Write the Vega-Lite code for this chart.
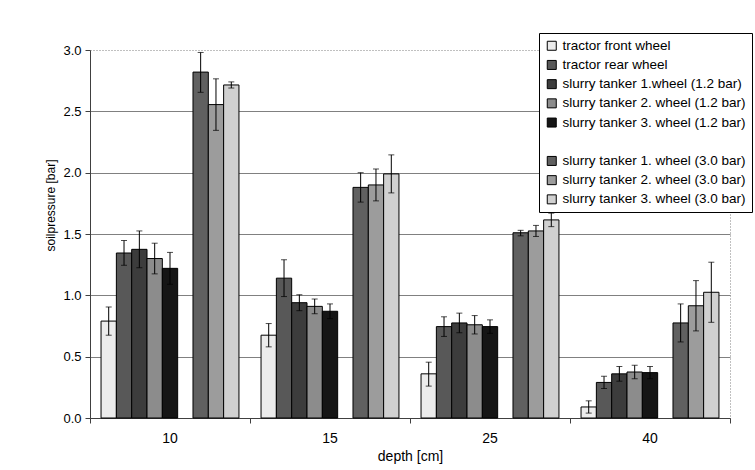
{
  "$schema": "https://vega.github.io/schema/vega-lite/v6.json",
  "width": 640,
  "height": 368,
  "autosize": {"type": "none"},
  "padding": {"left": 90, "top": 50, "right": 25, "bottom": 52},
  "background": "white",
  "config": {
    "font": "Liberation Sans",
    "view": {"stroke": "#808080", "strokeDash": [1, 2], "strokeWidth": 1},
    "axis": {
      "labelFont": "Liberation Sans",
      "titleFont": "Liberation Sans",
      "labelColor": "black",
      "titleColor": "black",
      "titleFontWeight": "normal",
      "domainColor": "#404040",
      "tickColor": "#404040"
    }
  },
  "data": {
    "values": [
      {"depth": "10", "series": "tractor front wheel", "v": 0.79, "lo": 0.675, "hi": 0.905},
      {"depth": "10", "series": "tractor rear wheel", "v": 1.345, "lo": 1.245, "hi": 1.447},
      {"depth": "10", "series": "slurry tanker 1.wheel (1.2 bar)", "v": 1.375, "lo": 1.225, "hi": 1.525},
      {"depth": "10", "series": "slurry tanker 2. wheel (1.2 bar)", "v": 1.3, "lo": 1.175, "hi": 1.425},
      {"depth": "10", "series": "slurry tanker 3. wheel (1.2 bar)", "v": 1.22, "lo": 1.09, "hi": 1.35},
      {"depth": "10", "series": "slurry tanker 1. wheel (3.0 bar)", "v": 2.82, "lo": 2.655, "hi": 2.98},
      {"depth": "10", "series": "slurry tanker 2. wheel (3.0 bar)", "v": 2.555, "lo": 2.345, "hi": 2.765},
      {"depth": "10", "series": "slurry tanker 3. wheel (3.0 bar)", "v": 2.715, "lo": 2.69, "hi": 2.74},
      {"depth": "15", "series": "tractor front wheel", "v": 0.675, "lo": 0.58, "hi": 0.77},
      {"depth": "15", "series": "tractor rear wheel", "v": 1.14, "lo": 0.99, "hi": 1.29},
      {"depth": "15", "series": "slurry tanker 1.wheel (1.2 bar)", "v": 0.94, "lo": 0.875, "hi": 1.005},
      {"depth": "15", "series": "slurry tanker 2. wheel (1.2 bar)", "v": 0.91, "lo": 0.85, "hi": 0.97},
      {"depth": "15", "series": "slurry tanker 3. wheel (1.2 bar)", "v": 0.87, "lo": 0.81, "hi": 0.93},
      {"depth": "15", "series": "slurry tanker 1. wheel (3.0 bar)", "v": 1.88, "lo": 1.76, "hi": 2.0},
      {"depth": "15", "series": "slurry tanker 2. wheel (3.0 bar)", "v": 1.9, "lo": 1.77, "hi": 2.03},
      {"depth": "15", "series": "slurry tanker 3. wheel (3.0 bar)", "v": 1.99, "lo": 1.835, "hi": 2.145},
      {"depth": "25", "series": "tractor front wheel", "v": 0.36, "lo": 0.26, "hi": 0.455},
      {"depth": "25", "series": "tractor rear wheel", "v": 0.745, "lo": 0.665, "hi": 0.825},
      {"depth": "25", "series": "slurry tanker 1.wheel (1.2 bar)", "v": 0.775, "lo": 0.695, "hi": 0.855},
      {"depth": "25", "series": "slurry tanker 2. wheel (1.2 bar)", "v": 0.76, "lo": 0.685, "hi": 0.835},
      {"depth": "25", "series": "slurry tanker 3. wheel (1.2 bar)", "v": 0.745, "lo": 0.69, "hi": 0.8},
      {"depth": "25", "series": "slurry tanker 1. wheel (3.0 bar)", "v": 1.51, "lo": 1.485, "hi": 1.53},
      {"depth": "25", "series": "slurry tanker 2. wheel (3.0 bar)", "v": 1.525, "lo": 1.48, "hi": 1.57},
      {"depth": "25", "series": "slurry tanker 3. wheel (3.0 bar)", "v": 1.615, "lo": 1.56, "hi": 1.67},
      {"depth": "40", "series": "tractor front wheel", "v": 0.09, "lo": 0.04, "hi": 0.14},
      {"depth": "40", "series": "tractor rear wheel", "v": 0.29, "lo": 0.24, "hi": 0.34},
      {"depth": "40", "series": "slurry tanker 1.wheel (1.2 bar)", "v": 0.36, "lo": 0.3, "hi": 0.42},
      {"depth": "40", "series": "slurry tanker 2. wheel (1.2 bar)", "v": 0.375, "lo": 0.32, "hi": 0.43},
      {"depth": "40", "series": "slurry tanker 3. wheel (1.2 bar)", "v": 0.37, "lo": 0.32, "hi": 0.42},
      {"depth": "40", "series": "slurry tanker 1. wheel (3.0 bar)", "v": 0.775, "lo": 0.62, "hi": 0.93},
      {"depth": "40", "series": "slurry tanker 2. wheel (3.0 bar)", "v": 0.915, "lo": 0.71, "hi": 1.12},
      {"depth": "40", "series": "slurry tanker 3. wheel (3.0 bar)", "v": 1.025, "lo": 0.78, "hi": 1.27}
    ]
  },
  "encoding": {
    "x": {
      "field": "depth",
      "type": "ordinal",
      "sort": ["10", "15", "25", "40"],
      "title": "depth [cm]",
      "scale": {"paddingInner": 0, "paddingOuter": 0},
      "axis": {
        "labelAngle": 0,
        "bandPosition": 1,
        "tickExtra": true,
        "tickSize": 5,
        "labelPadding": 8,
        "labelFontSize": 14,
        "titleFontSize": 14,
        "titlePadding": 4,
        "grid": false
      }
    },
    "xOffset": {
      "field": "series",
      "type": "nominal",
      "scale": {
        "domain": ["tractor front wheel", "tractor rear wheel", "slurry tanker 1.wheel (1.2 bar)", "slurry tanker 2. wheel (1.2 bar)", "slurry tanker 3. wheel (1.2 bar)", " ", "slurry tanker 1. wheel (3.0 bar)", "slurry tanker 2. wheel (3.0 bar)", "slurry tanker 3. wheel (3.0 bar)"],
        "paddingInner": 0,
        "paddingOuter": 0.72
      }
    }
  },
  "layer": [
    {
      "mark": {"type": "bar", "stroke": "black", "strokeWidth": 1},
      "encoding": {
        "y": {
          "field": "v",
          "type": "quantitative",
          "title": "soilpressure [bar]",
          "scale": {"domain": [0, 3]},
          "axis": {
            "values": [0, 0.5, 1, 1.5, 2, 2.5, 3],
            "format": ".1f",
            "tickSize": 5,
            "labelPadding": 4,
            "labelFontSize": 13,
            "titleFontSize": 12,
            "titleX": -36,
            "titleY": 155,
            "titleBaseline": "alphabetic",
            "gridColor": "#808080",
            "gridOpacity": {"condition": {"test": "datum.value >= 3", "value": 0}, "value": 1}
          }
        },
        "color": {
          "field": "series",
          "type": "nominal",
          "scale": {
            "domain": ["tractor front wheel", "tractor rear wheel", "slurry tanker 1.wheel (1.2 bar)", "slurry tanker 2. wheel (1.2 bar)", "slurry tanker 3. wheel (1.2 bar)", " ", "slurry tanker 1. wheel (3.0 bar)", "slurry tanker 2. wheel (3.0 bar)", "slurry tanker 3. wheel (3.0 bar)"],
            "range": ["#ececec", "#585858", "#3c3c3c", "#8c8c8c", "#151515", "transparent", "#606060", "#9c9c9c", "#d0d0d0"]
          },
          "legend": {
            "orient": "none",
            "legendX": 449,
            "legendY": -17,
            "title": null,
            "symbolType": "square",
            "symbolSize": 81,
            "symbolStrokeWidth": 1,
            "symbolStrokeColor": "black",
            "labelFont": "Liberation Sans",
            "labelFontSize": 13.5,
            "labelColor": "black",
            "labelLimit": 300,
            "labelOffset": 4,
            "rowPadding": 4.2,
            "padding": 6,
            "strokeColor": "black",
            "fillColor": "white",
            "encode": {
              "symbols": {
                "update": {
                  "stroke": {"signal": "datum.value == ' ' ? 'transparent' : 'black'"}
                }
              }
            }
          }
        }
      }
    },
    {
      "mark": {"type": "rule", "color": "black", "strokeWidth": 1},
      "encoding": {
        "y": {"field": "lo", "type": "quantitative"},
        "y2": {"field": "hi"}
      }
    },
    {
      "mark": {"type": "tick", "color": "black", "thickness": 1, "size": 6, "orient": "horizontal"},
      "encoding": {
        "y": {"field": "lo", "type": "quantitative"}
      }
    },
    {
      "mark": {"type": "tick", "color": "black", "thickness": 1, "size": 6, "orient": "horizontal"},
      "encoding": {
        "y": {"field": "hi", "type": "quantitative"}
      }
    }
  ]
}
